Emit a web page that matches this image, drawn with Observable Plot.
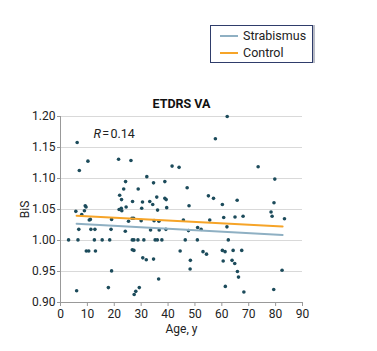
<!DOCTYPE html>
<html>
<head>
<meta charset="utf-8">
<script src="https://cdn.jsdelivr.net/npm/d3@7"></script>
<script src="https://cdn.jsdelivr.net/npm/@observablehq/plot@0.6"></script>
<style>
  body { margin: 0; background: #fff; font-family: Roboto, "Noto Sans", sans-serif; }
  #wrap { position: relative; width: 377px; height: 351px; }
  #legend { position: absolute; left: 210px; top: 25px; width: 101px; height: 36px;
    border: 1px solid #2f3d6b; box-shadow: 2px 0 0 #b9bcc6; background: #fff;
    font-size: 12.5px; color: #222; }
  .li { position: absolute; left: 9px; display: flex; align-items: center; }
  .sw { width: 18px; height: 2px; margin-right: 5px; }
</style>
</head>
<body>
<div id="wrap"></div>
<script>
// Scatter points: age (years) and BiS
const ages = [6.2,10.2,7.0,21.6,26.2,24.2,23.5,22.0,22.7,26.8,28.9,30.5,9.2,9.5,8.9,5.7,7.9,21.8,22.6,22.8,24.4,30.2,19.0,11.1,10.7,6.8,11.3,12.8,18.8,24.1,25.3,26.6,27.2,30.0,3.0,6.5,12.6,15.5,18.3,26.7,27.3,28.8,31.0,9.6,10.5,13.0,26.7,27.3,30.6,19.0,6.0,17.8,29.3,28.0,27.4,
  41.5,44.1,32.1,34.6,38.8,47.1,33.2,34.3,35.8,36.1,38.8,39.3,39.5,47.8,55.0,56.9,60.2,45.7,55.5,33.5,34.8,36.6,36.7,39.2,47.6,51.0,52.3,61.9,60.7,35.2,36.0,37.7,46.4,50.9,62.4,31.9,34.6,44.5,48.3,48.2,53.0,54.3,60.2,61.2,36.5,61.3,60.5,
  57.6,62.0,73.5,79.7,65.7,79.4,78.3,78.7,83.3,64.9,67.9,64.2,67.4,63.8,64.8,65.8,66.2,82.4,68.2,79.3];
const bis = [1.158,1.128,1.113,1.131,1.129,1.095,1.083,1.073,1.066,1.063,1.083,1.062,1.056,1.054,1.048,1.047,1.042,1.050,1.052,1.048,1.054,1.052,1.034,1.034,1.033,1.018,1.018,1.018,1.018,1.015,1.031,1.036,1.036,1.032,1.001,1.001,1.001,1.001,1.001,1.001,1.001,1.001,1.001,0.983,0.983,0.983,0.985,0.984,0.972,0.951,0.919,0.924,0.924,0.918,0.913,
  1.120,1.118,1.103,1.093,1.095,1.085,1.063,1.058,1.070,1.049,1.068,1.066,1.053,1.056,1.072,1.068,1.058,1.033,1.033,1.017,1.032,1.031,1.017,1.018,1.016,1.021,1.018,1.022,1.037,1.001,1.001,1.001,1.001,1.001,1.001,0.969,0.970,0.983,0.968,0.954,0.982,0.978,0.984,0.982,0.938,0.926,0.967,
  1.164,1.200,1.119,1.099,1.065,1.061,1.046,1.039,1.035,1.038,1.039,0.984,0.984,0.968,0.963,0.950,0.941,0.952,0.917,0.921];

// Regression fits
const fitAges = [6, 82.6];
const strabismusFit = [1.027, 1.009];
const controlFit = [1.040, 1.0225];

const seriesNames = ["Strabismus", "Control"];
const seriesColors = ["#8fb0c3", "#f6a428"];

const xTicks = [0,10,20,30,40,50,60,70,80,90];
const yTicks = [0.90,0.95,1.00,1.05,1.10,1.15,1.20];

const title = "ETDRS VA";
const rLabel = "R=0.14";

const points = ages.map((a, i) => ({age: a, bis: bis[i]}));
const fits = [
  ...fitAges.map((a, i) => ({age: a, v: strabismusFit[i], s: seriesNames[0]})),
  ...fitAges.map((a, i) => ({age: a, v: controlFit[i], s: seriesNames[1]}))
];

const chart = Plot.plot({
  width: 377, height: 351,
  marginLeft: 60, marginRight: 75, marginTop: 116, marginBottom: 49,
  style: {fontFamily: "Roboto, 'Noto Sans', sans-serif", fontSize: "12px", color: "#222", background: "#fff"},
  x: {domain: [0, 90]},
  y: {domain: [0.9, 1.2]},
  color: {domain: seriesNames, range: seriesColors},
  marks: [
    Plot.gridY(yTicks, {stroke: "#d9d9d9", strokeOpacity: 1, strokeWidth: 1.2}),
    Plot.axisY({ticks: yTicks, tickFormat: d3.format(".2f"), tickSize: 3, tickPadding: 2, stroke: "#999", label: "BiS", labelAnchor: "center", labelOffset: 40, labelArrow: "none", fontSize: 12}),
    Plot.axisX({ticks: xTicks, tickSize: 4, tickPadding: 3, stroke: "#999", label: "Age, y", labelAnchor: "center", labelOffset: 30, labelArrow: "none", fontSize: 12}),
    Plot.ruleX([0], {stroke: "#999"}),
    Plot.ruleY([0.9], {stroke: "#999"}),
    Plot.dot(points, {x: "age", y: "bis", r: 1.8, fill: "#1c4b5b", stroke: "none"}),
    Plot.line(fits, {x: "age", y: "v", z: "s", stroke: "s", strokeWidth: 2}),
    Plot.text([title], {frameAnchor: "top", dy: -17, fontWeight: "bold", fontSize: 12.5, fill: "#111"}),
    Plot.text([rLabel], {frameAnchor: "top-left", dx: 33, dy: 13, textAnchor: "start", fontSize: 12.5, fill: "#222"})
  ]
});

d3.select(chart).selectAll("text").filter(function() { return this.textContent === rLabel; }).each(function() {
  const t = d3.select(this);
  t.text(null);
  t.append("tspan").attr("font-style", "italic").text("R");
  t.append("tspan").text("\u200A=\u200A0.14");
});

const wrap = document.getElementById("wrap");
wrap.appendChild(chart);

const legend = document.createElement("div");
legend.id = "legend";
seriesNames.forEach((name, i) => {
  const item = document.createElement("div");
  item.className = "li";
  item.style.top = (i === 0 ? 2 : 19) + "px";
  const sw = document.createElement("span");
  sw.className = "sw";
  sw.style.background = seriesColors[i];
  const lab = document.createElement("span");
  lab.textContent = name;
  item.appendChild(sw);
  item.appendChild(lab);
  legend.appendChild(item);
});
wrap.appendChild(legend);
</script>
</body>
</html>
